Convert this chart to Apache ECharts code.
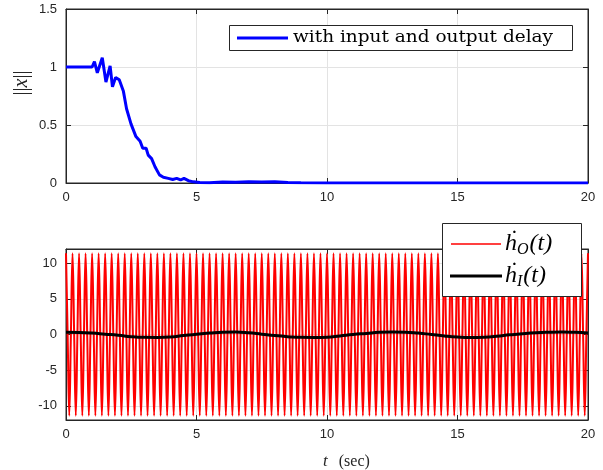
<!DOCTYPE html>
<html><head><meta charset="utf-8">
<script src="https://cdn.jsdelivr.net/npm/echarts@6/dist/echarts.min.js"></script>
<style>html,body{margin:0;padding:0;background:#fff}#c{width:603px;height:470px}</style>
</head><body><div id="c"></div>
<script>
// ||x|| (top panel)
const tNorm = [0, 0.5, 1.0, 1.05, 1.09, 1.2, 1.39, 1.53, 1.69, 1.78, 1.9, 2.04, 2.2, 2.32, 2.49, 2.68, 2.84, 2.94, 3.07, 3.15, 3.28, 3.41, 3.58, 3.73, 3.92, 4.09, 4.24, 4.39, 4.52, 4.69, 4.88, 5.13, 5.5, 6.0, 6.5, 7.0, 7.5, 8.0, 8.5, 9.0, 10.0, 12.0, 20.0];
const xNorm = [1, 1, 1, 1, 1.046, 0.95, 1.08, 0.87, 1.01, 0.83, 0.91, 0.89, 0.79, 0.64, 0.51, 0.40, 0.36, 0.30, 0.30, 0.24, 0.21, 0.14, 0.07, 0.05, 0.04, 0.03, 0.04, 0.026, 0.04, 0.02, 0.01, 0.005, 0.003, 0.008, 0.006, 0.01, 0.008, 0.01, 0.004, 0.002, 0.001, 0, 0];
// h_O dot (bottom panel, red): sampled every hOStep seconds
const hOStep = 0.0625;
const hO = [
11.4,0,-11.4,0,11.4,0,-11.4,0,11.4,0,-11.4,0,11.4,0,-11.4,0,11.4,0,-11.4,0,11.4,0,-11.4,0,11.4,0,-11.4,0,11.4,0,-11.4,0,11.4,0,-11.4,0,11.4,0,-11.4,0,
11.4,0,-11.4,0,11.4,0,-11.4,0,11.4,0,-11.4,0,11.4,0,-11.4,0,11.4,0,-11.4,0,11.4,0,-11.4,0,11.4,0,-11.4,0,11.4,0,-11.4,0,11.4,0,-11.4,0,11.4,0,-11.4,0,
11.4,0,-11.4,0,11.4,0,-11.4,0,11.4,0,-11.4,0,11.4,0,-11.4,0,11.4,0,-11.4,0,11.4,0,-11.4,0,11.4,0,-11.4,0,11.4,0,-11.4,0,11.4,0,-11.4,0,11.4,0,-11.4,0,
11.4,0,-11.4,0,11.4,0,-11.4,0,11.4,0,-11.4,0,11.4,0,-11.4,0,11.4,0,-11.4,0,11.4,0,-11.4,0,11.4,0,-11.4,0,11.4,0,-11.4,0,11.4,0,-11.4,0,11.4,0,-11.4,0,
11.4,0,-11.4,0,11.4,0,-11.4,0,11.4,0,-11.4,0,11.4,0,-11.4,0,11.4,0,-11.4,0,11.4,0,-11.4,0,11.4,0,-11.4,0,11.4,0,-11.4,0,11.4,0,-11.4,0,11.4,0,-11.4,0,
11.4,0,-11.4,0,11.4,0,-11.4,0,11.4,0,-11.4,0,11.4,0,-11.4,0,11.4,0,-11.4,0,11.4,0,-11.4,0,11.4,0,-11.4,0,11.4,0,-11.4,0,11.4,0,-11.4,0,11.4,0,-11.4,0,
11.4,0,-11.4,0,11.4,0,-11.4,0,11.4,0,-11.4,0,11.4,0,-11.4,0,11.4,0,-11.4,0,11.4,0,-11.4,0,11.4,0,-11.4,0,11.4,0,-11.4,0,11.4,0,-11.4,0,11.4,0,-11.4,0,
11.4,0,-11.4,0,11.4,0,-11.4,0,11.4,0,-11.4,0,11.4,0,-11.4,0,11.4,0,-11.4,0,11.4,0,-11.4,0,11.4,0,-11.4,0,11.4,0,-11.4,0,11.4,0,-11.4,0,11.4,0,-11.4,0,
11.4];
// h_I dot (bottom panel, black)
const tHI = [0,0.5,1,1.5,2,2.5,3,3.5,4,4.5,5,5.5,6,6.5,7,7.5,8,8.5,9,9.5,10,10.5,11,11.5,12,12.5,13,13.5,14,14.5,15,15.5,16,16.5,17,17.5,18,18.5,19,19.5,20];
const hI = [0.3,0.28,0.2,0.05,-0.1,-0.3,-0.4,-0.42,-0.35,-0.15,0.05,0.2,0.32,0.35,0.25,0.05,-0.15,-0.3,-0.4,-0.42,-0.38,-0.2,0.0,0.15,0.3,0.35,0.33,0.2,0.0,-0.2,-0.35,-0.42,-0.38,-0.25,-0.05,0.12,0.25,0.32,0.35,0.3,0.2];

const topLegendName = 'with input and output delay';

const C = '#262626';
const SANS = 'Liberation Sans, Arial, Helvetica, sans-serif';
const SERIF = 'DejaVu Serif, Liberation Serif, serif';
const SERIF2 = 'Liberation Serif, DejaVu Serif, serif';

// plot areas
const L = 66, R = 15;
const G0 = {top: 9, h: 174};
const G1 = {top: 249, h: 171};
// bottom panel spans -12..12; tick grid spans -10..10
const G2 = {top: G1.top + G1.h * 2 / 24, h: G1.h * 20 / 24};

function xAx(grid, pos, withLabels, extra) {
  return Object.assign({
    type: 'value', gridIndex: grid, position: pos, min: 0, max: 20, interval: 5,
    axisLine: {show: true, onZero: false, lineStyle: {color: C, width: 1}},
    axisTick: {show: true, inside: true, length: 5, lineStyle: {color: C}},
    axisLabel: {show: withLabels, color: C, fontFamily: SANS, fontSize: 13, margin: 8},
    splitLine: {show: withLabels, lineStyle: {color: '#e3e3e3', width: 1}}
  }, extra || {});
}
function yAx(grid, pos, withLabels, min, max, interval, extra) {
  return Object.assign({
    type: 'value', gridIndex: grid, position: pos, min: min, max: max, interval: interval,
    axisLine: {show: true, onZero: false, lineStyle: {color: C, width: 1}},
    axisTick: {show: true, inside: true, length: 5, lineStyle: {color: C}},
    axisLabel: {show: withLabels, color: C, fontFamily: SANS, fontSize: 13, margin: 9},
    splitLine: {show: withLabels, lineStyle: {color: '#e3e3e3', width: 1}}
  }, extra || {});
}

const subRich = {
  h: {fontFamily: SERIF2, fontStyle: 'italic', fontSize: 24, fill: '#000', lineHeight: 27},
  s: {fontFamily: SERIF2, fontStyle: 'italic', fontSize: 16, fill: '#000', verticalAlign: 'bottom', lineHeight: 16, padding: [11, 1, 0, 0]}
};

const chart = echarts.init(document.getElementById('c'), null, {renderer: 'canvas'});
chart.setOption({
  animation: false,
  backgroundColor: '#fff',
  grid: [
    {left: L, right: R, top: G0.top, height: G0.h, show: true, borderColor: C, borderWidth: 1},
    {left: L, right: R, top: G1.top, height: G1.h, show: true, borderColor: C, borderWidth: 1},
    {left: L, right: R, top: G2.top, height: G2.h, show: false}
  ],
  xAxis: [
    xAx(0, 'bottom', true),
    xAx(0, 'top', false),
    xAx(1, 'bottom', true),
    xAx(1, 'top', false),
    {type: 'value', gridIndex: 2, min: 0, max: 20, show: false}
  ],
  yAxis: [
    yAx(0, 'left', true, 0, 1.5, 0.5),
    yAx(0, 'right', false, 0, 1.5, 0.5),
    {type: 'value', gridIndex: 1, position: 'left', min: -12, max: 12,
      axisLine: {show: true, onZero: false, lineStyle: {color: C}}, axisTick: {show: false},
      axisLabel: {show: false}, splitLine: {show: false}},
    {type: 'value', gridIndex: 1, position: 'right', min: -12, max: 12,
      axisLine: {show: true, onZero: false, lineStyle: {color: C}}, axisTick: {show: false},
      axisLabel: {show: false}, splitLine: {show: false}},
    yAx(2, 'left', true, -10, 10, 5, {axisLine: {show: false}}),
    yAx(2, 'right', false, -10, 10, 5, {axisLine: {show: false}})
  ],
  series: [
    {
      name: topLegendName, type: 'line', xAxisIndex: 0, yAxisIndex: 0,
      data: tNorm.map((t, i) => [t, xNorm[i]]), symbol: 'none',
      lineStyle: {color: '#0000ff', width: 3}, itemStyle: {color: '#0000ff'}
    },
    {
      name: 'hO', type: 'line', xAxisIndex: 2, yAxisIndex: 2,
      data: hO.map((v, i) => [i * hOStep, v]), symbol: 'none', smooth: 0.4,
      lineStyle: {color: '#ff0000', width: 2}, itemStyle: {color: '#ff0000'}
    },
    {
      name: 'hI', type: 'line', xAxisIndex: 2, yAxisIndex: 2,
      data: tHI.map((t, i) => [t, hI[i]]), symbol: 'none', smooth: true,
      lineStyle: {color: '#000000', width: 3}, itemStyle: {color: '#000000'}
    }
  ],
  graphic: [
    // y label of top panel
    {type: 'text', z: 101, x: 22, y: 83, rotation: Math.PI / 2,
      style: {text: '{n|||}{i|x}{n|||}', align: 'center', verticalAlign: 'middle', rich: {
        i: {fontFamily: SERIF2, fontStyle: 'italic', fontSize: 20, fill: C},
        n: {fontFamily: SERIF2, fontSize: 20, fill: C}
      }}},
    // x label of bottom panel
    {type: 'text', z: 101, x: 323, y: 462,
      style: {text: '{i|t}{n|(sec)}', align: 'left', verticalAlign: 'middle', rich: {
        i: {fontFamily: SERIF2, fontStyle: 'italic', fontSize: 17, fill: C, padding: [0, 11, 0, 0]},
        n: {fontFamily: SERIF2, fontSize: 16, fill: C}
      }}},
    // top legend
    {type: 'rect', z: 100, shape: {x: 229.5, y: 25.5, width: 343, height: 25},
      style: {fill: '#fff', stroke: C, lineWidth: 1}},
    {type: 'line', z: 101, shape: {x1: 237, y1: 38, x2: 288, y2: 38},
      style: {stroke: '#0000ff', lineWidth: 3}},
    {type: 'text', z: 101, x: 293, y: 38, scaleX: 1.155,
      style: {text: topLegendName, fontFamily: SERIF, fontSize: 16, fill: '#000', verticalAlign: 'middle'}},
    // bottom legend
    {type: 'rect', z: 100, shape: {x: 442.5, y: 223.5, width: 139, height: 73},
      style: {fill: '#fff', stroke: C, lineWidth: 1}},
    {type: 'line', z: 101, shape: {x1: 451, y1: 244, x2: 501, y2: 244},
      style: {stroke: '#ff0000', lineWidth: 1.5}},
    {type: 'line', z: 101, shape: {x1: 450, y1: 276, x2: 502, y2: 276},
      style: {stroke: '#000000', lineWidth: 3}},
    {type: 'text', z: 101, x: 505, y: 244,
      style: {text: '{h|ḣ}{s|O}{h|(t)}', verticalAlign: 'middle', rich: subRich}},
    {type: 'text', z: 101, x: 505, y: 276,
      style: {text: '{h|ḣ}{s|I}{h|(t)}', verticalAlign: 'middle', rich: subRich}}
  ]
});
</script>
</body></html>
